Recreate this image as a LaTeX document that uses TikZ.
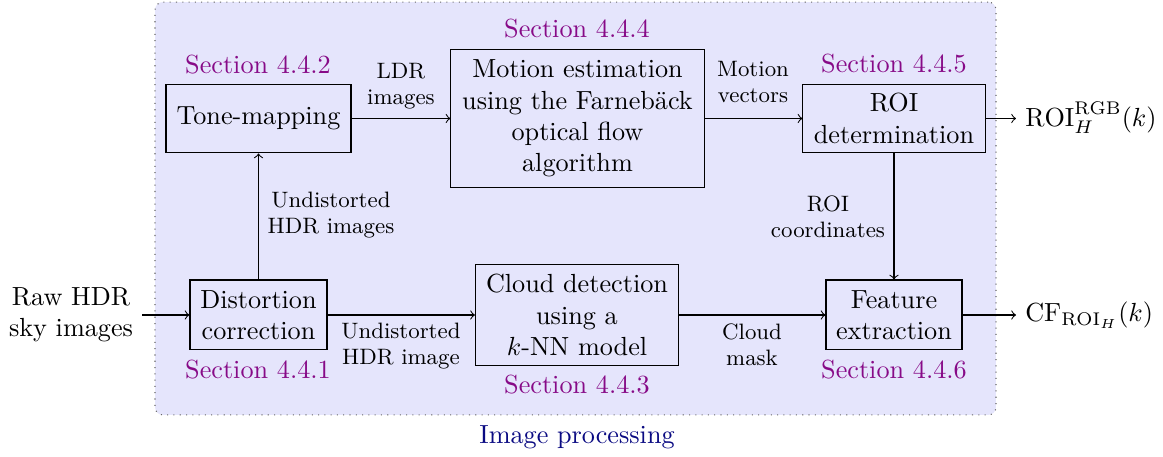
\documentclass[tikz,border=0pt]{standalone}
\usepackage{fontspec}
\definecolor{seccol}{RGB}{135,10,135}
\definecolor{bgfill}{RGB}{229,229,252}
\definecolor{titlecol}{RGB}{10,10,130}
\begin{document}
\begin{tikzpicture}[x=0.3817pt,y=-0.3817pt,
  box/.style={draw, align=center, inner sep=0pt},
  sec/.style={text=seccol},
  lab/.style={align=center, font=\fontsize{8.5}{9.8}\selectfont, inner sep=1pt},
  arr/.style={->}
]
\useasboundingbox (0,0) rectangle (1163,457);
\node[draw=black!60, dotted, fill=bgfill, rounded corners=3pt, minimum width=321pt, minimum height=157.6pt, inner sep=0pt] (bg) at (575.5,208.5) {};

\node[box, minimum width=70.6pt, minimum height=26.3pt] (tone) at (258.5,118.5) {Tone-mapping};
\node[box, minimum width=96.6pt, minimum height=52.7pt] (motion) at (577.5,118.5) {Motion estimation\\using the Farnebäck\\optical flow\\algorithm};
\node[box, minimum width=69.5pt, minimum height=26.3pt] (roi) at (894,118.5) {ROI\\determination};
\node[box, minimum width=52.3pt, minimum height=26.7pt] (dist) at (258.5,315) {Distortion\\correction};
\node[box, minimum width=77.5pt, minimum height=38.9pt] (cloud) at (577,315) {Cloud detection\\using a\\$k$-NN model};
\node[box, minimum width=51.9pt, minimum height=26.7pt] (feat) at (894,315) {Feature\\extraction};

\node[sec] (s442) at (258,65) {Section 4.4.2};
\node[sec] (s444) at (577,29) {Section 4.4.4};
\node[sec] (s445) at (894,64) {Section 4.4.5};
\node[sec] (s441) at (258,370) {Section 4.4.1};
\node[sec] (s443) at (577,385) {Section 4.4.3};
\node[sec] (s446) at (894,370) {Section 4.4.6};

\node[lab] (lldr) at (401,86) {LDR\\images};
\node[lab] (lmv) at (753,82) {Motion\\vectors};
\node[lab] (lund1) at (331,215) {Undistorted\\HDR images};
\node[lab] (lund2) at (401,346) {Undistorted\\HDR image};
\node[lab] (lcm) at (752,345) {Cloud\\mask};
\node[lab] (lroic) at (828,217) {ROI\\coordinates};

\node[align=center] (raw) at (71,315) {Raw HDR\\sky images};
\node[anchor=base west] (out1) at (1016,127) {$\mathrm{ROI}_H^{\mathrm{RGB}}(k)$};
\node[anchor=base west] (out2) at (1016,322) {$\mathrm{CF}_{\mathrm{ROI}_H}(k)$};
\node[text=titlecol] (title) at (577,437) {Image processing};

\draw[arr] (raw) -- (dist);
\draw[arr] (dist) -- (tone);
\draw[arr] (tone) -- (motion);
\draw[arr] (motion) -- (roi);
\draw[arr] (roi.east) -- (roi.east -| out1.west);
\draw[arr] (dist) -- (cloud);
\draw[arr] (cloud) -- (feat);
\draw[arr] (roi) -- (feat);
\draw[arr] (feat.east) -- (feat.east -| out2.west);
\end{tikzpicture}
\end{document}
